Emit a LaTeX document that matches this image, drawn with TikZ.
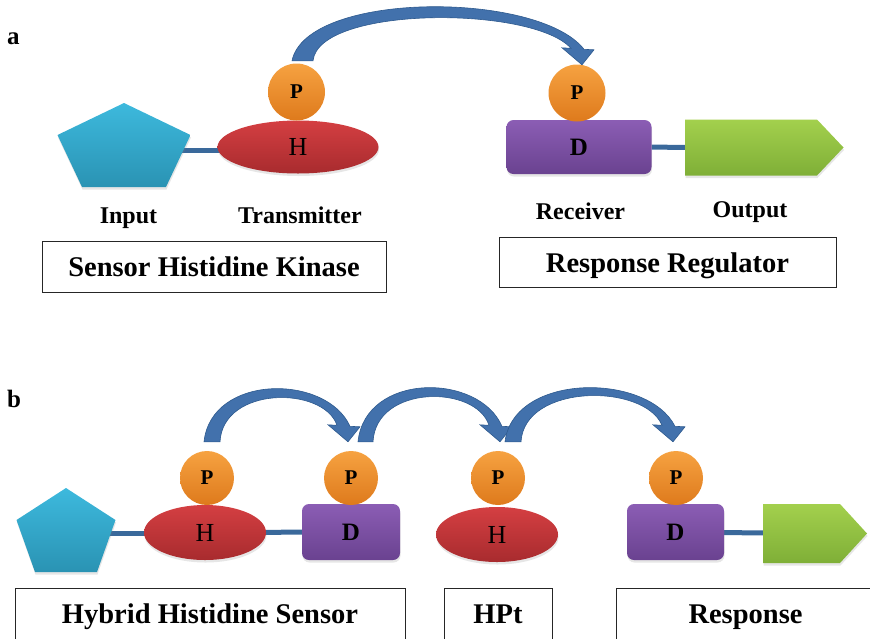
\documentclass[tikz,border=0pt]{standalone}
\usepackage{fontspec}
\setmainfont{Liberation Serif}
\usetikzlibrary{shapes.geometric,backgrounds,shadows,calc}

\definecolor{kinaseT}{HTML}{D43F42}
\definecolor{kinaseB}{HTML}{A82B2E}
\definecolor{sensorT}{HTML}{3DB9DD}
\definecolor{sensorB}{HTML}{2A93B3}
\definecolor{phosT}{HTML}{F6A241}
\definecolor{phosB}{HTML}{DE7A1C}
\definecolor{recvT}{HTML}{8B5DB4}
\definecolor{recvB}{HTML}{6A4290}
\definecolor{outT}{HTML}{A3D04D}
\definecolor{outB}{HTML}{7FAF37}
\definecolor{flowblue}{HTML}{4271AC}
\definecolor{flowedge}{HTML}{2E5A8E}
\definecolor{linkblue}{HTML}{3A699B}

% curved block arrow from one phosphate to the next
% #1 source, #2 target, #3 base offset, #4 tip offset,
% #5 base width, #6 outer arch height, #7 inner arch height
\newcommand\flowarc[7]{%
  \path[flow] let \p1=($(#1.north)+(#3)$), \p2=($(#2.north)+(#4)$),
      \n1={\x2-\x1} in
    (\x1,\y1)
    .. controls ({\x1+0.05*\n1},{(8*(\y1+#6pt)-(\y1)-(\y2+15.5pt))/6})
           and ({\x2-0.15*\n1},{(8*(\y1+#6pt)-(\y1)-(\y2+15.5pt))/6})
    .. ({\x2+2pt},{\y2+15.5pt})
    -- ({\x2+12pt},{\y2+15pt}) -- (\x2,\y2) -- ({\x2-20pt},{\y2+17pt})
    -- ({\x2-11pt},{\y2+16.5pt})
    .. controls ({\x2-0.17*\n1},{(8*(\y1+#7pt)-(\y1)-(\y2+16.5pt))/6})
           and ({\x1+#5pt+0.02*\n1},{(8*(\y1+#7pt)-(\y1)-(\y2+16.5pt))/6})
    .. ({\x1+#5pt},\y1) -- cycle;
}

\tikzset{
  soft/.style={drop shadow={opacity=0.2,shadow xshift=0.5pt,shadow yshift=-2.5pt}},
  sensor/.style={top color=sensorT, bottom color=sensorB, soft},
  output/.style={top color=outT, bottom color=outB, soft},
  kinase/.style={ellipse, inner sep=0, top color=kinaseT, bottom color=kinaseB, soft,
                 font=\fontsize{26}{26}\selectfont},
  phos/.style={circle, inner sep=0, minimum size=56, top color=phosT, bottom color=phosB,
               font=\bfseries\fontsize{21}{21}\selectfont},
  recv/.style={rectangle, rounded corners=7, inner sep=0, top color=recvT, bottom color=recvB,
               soft, font=\bfseries\fontsize{25}{25}\selectfont},
  link/.style={draw=linkblue, line width=5},
  flow/.style={fill=flowblue, draw=flowedge, line width=0.6},
  partname/.style={anchor=base, inner sep=0, font=\bfseries\fontsize{24}{24}\selectfont},
  panel/.style={anchor=base west, inner sep=0, font=\bfseries\fontsize{25}{25}\selectfont},
  titlebox/.style={draw=black!85, line width=1, inner sep=0, text height=20, text depth=0,
                   font=\bfseries\fontsize{28.5}{28.5}\selectfont}
}

\begin{document}
\begin{tikzpicture}[x=1pt,y=-1pt]
\useasboundingbox (0,0) rectangle (870,638);
\clip (0,0) rectangle (870,638);

% ---------- panel a : two-component system ----------
\node[panel] (lbla) at (7,44) {a};

\path[sensor] (124,103) -- (190.5,135) -- (166,187) -- (82,187) -- (57.5,135) -- cycle;
\coordinate (ina) at (124,150);
\node[kinase, minimum width=161, minimum height=53] (ha) at (298,147) {\raisebox{-3.5pt}{H}};
\node[phos, minimum size=57] (pa1) at (296.5,92) {\raisebox{-2pt}{P}};

\node[recv, minimum width=145, minimum height=54] (da) at (579,147) {D};
\node[phos, minimum size=57] (pa2) at (577,93) {\raisebox{-1.5pt}{P}};
\path[output] (685,119.5) -- (817,119.5) -- (843.5,147.5) -- (817,175.5) -- (685,175.5) -- cycle;
\coordinate (outa) at (760,147.5);

\flowarc{pa1}{pa2}{-4.5,-2.5}{5,0.5}{21}{54}{43}

\node[partname] (tin) at (128.5,223.5) {Input};
\node[partname] (ttr) at (300,223) {Transmitter};
\node[partname] (trc) at (580.5,219) {Receiver};
\node[partname] (tout) at (750,217.5) {Output};

\node[titlebox, minimum width=344, minimum height=51] (shk) at (214,266.5) {Sensor Histidine Kinase};
\node[titlebox, minimum width=337, minimum height=50] (rr) at (667.5,262.3) {Response Regulator};

% ---------- panel b : phosphorelay ----------
\node[panel] (lblb) at (7,407) {b};

\path[sensor] (66,488) -- (115.5,520) -- (97,572) -- (35,572) -- (16.5,520) -- cycle;
\coordinate (inb) at (66,533);
\node[kinase, minimum width=122, minimum height=55] (hb1) at (205,532.5) {\raisebox{-3.5pt}{H}};
\node[phos, minimum size=54] (pb1) at (207,478) {P};
\node[recv, minimum width=98, minimum height=56] (db1) at (351,532) {D};
\node[phos, minimum size=54] (pb2) at (351,478) {P};

\node[kinase, minimum width=122, minimum height=55] (hb2) at (497,534.5) {\raisebox{-3.5pt}{H}};
\node[phos, minimum size=54] (pb3) at (498,478) {P};

\node[recv, minimum width=97, minimum height=56] (db2) at (675.5,532) {D};
\node[phos, minimum size=54] (pb4) at (676,478) {P};
\path[output] (763,504) -- (840,504) -- (867,533.5) -- (840,563) -- (763,563) -- cycle;
\coordinate (outb) at (810,533.5);

\flowarc{pb1}{pb2}{-3,-9}{-3,-9}{16}{53}{44}
\flowarc{pb2}{pb3}{7,-9}{2,-9}{15}{54}{45}
\flowarc{pb3}{pb4}{7,-9}{-3,-9}{16}{54}{46}

\node[titlebox, minimum width=390, minimum height=51] (hhs) at (210,613.5) {Hybrid Histidine Sensor};
\node[titlebox, minimum width=108, minimum height=51] (hpt) at (498,613.5) {HPt};
\node[titlebox, minimum width=259, minimum height=51] (resp) at (745.5,613.5) {Response};

% ---------- domain linkers ----------
\begin{scope}[on background layer]
  \draw[link] (ina) -- (ina -| ha);
  \draw[link] (da) -- (outa);
  \draw[link] (inb) -- (inb -| hb1);
  \draw[link] (hb1) -- (db1);
  \draw[link] (db2) -- (outb);
\end{scope}
\end{tikzpicture}
\end{document}
